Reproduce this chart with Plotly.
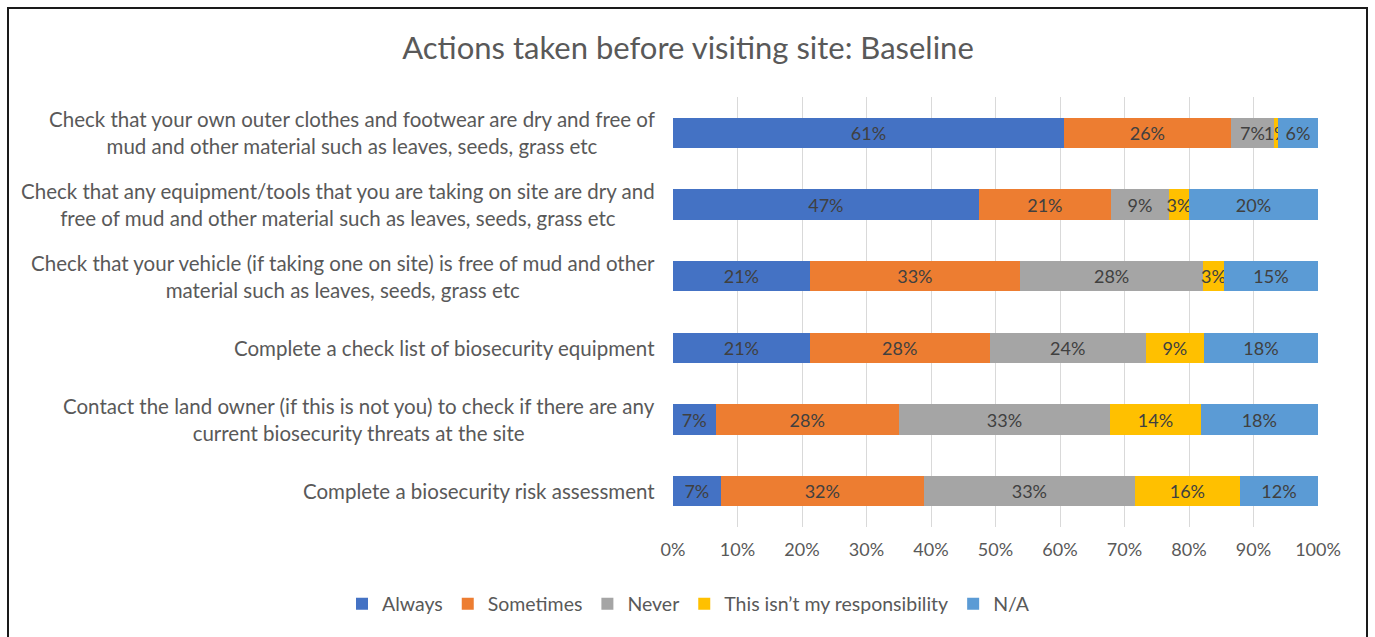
import plotly.graph_objects as go

# Survey statements (top to bottom) and share of responses, in percent
statements = [
    "Check that your own outer clothes and footwear are dry and free of<br>mud and other material such as leaves, seeds, grass etc",
    "Check that any equipment/tools that you are taking on site are dry and<br>free of mud and other material such as leaves, seeds, grass etc",
    "Check that your vehicle (if taking one on site) is free of mud and other<br>material such as leaves, seeds, grass etc",
    "Complete a check list of biosecurity equipment",
    "Contact the land owner (if this is not you) to check if there are any<br>current biosecurity threats at the site",
    "Complete a biosecurity risk assessment",
]
row_keys = ["s1", "s2", "s3", "s4", "s5", "s6"]

always = [60.6, 47.4, 21.2, 21.2, 6.6, 7.4]
sometimes = [25.9, 20.5, 32.6, 27.9, 28.4, 31.5]
never = [6.7, 9.0, 28.4, 24.2, 32.8, 32.7]
not_mine = [0.6, 3.1, 3.2, 9.0, 14.0, 16.3]
not_applicable = [6.2, 20.0, 14.6, 17.7, 18.2, 12.1]

series = [
    ("Always", always, "#4472C4"),
    ("Sometimes", sometimes, "#ED7D31"),
    ("Never", never, "#A5A5A5"),
    ("This isn\u2019t my responsibility", not_mine, "#FFC000"),
    ("N/A", not_applicable, "#5B9BD5"),
]

tick_vals = [0, 10, 20, 30, 40, 50, 60, 70, 80, 90, 100]
tick_text = ["0%", "10%", "20%", "30%", "40%", "50%", "60%", "70%", "80%", "90%", "100%"]

FONT = "Lato"
GREY = "#595959"
W, H = 1375, 637
L, R, T, B = 673, 57, 97, 110
PW, PH = W - L - R, H - T - B

fig = go.Figure()
for name, vals, color in series:
    fig.add_trace(go.Bar(
        y=row_keys, x=vals, name=name, orientation="h",
        marker=dict(color=color, line=dict(width=0)),
        texttemplate="%{x:.0f}%", textposition="inside", textangle=0,
        insidetextanchor="middle", constraintext="none",
        textfont=dict(family=FONT, size=18, color="#404040"),
        hoverinfo="skip",
    ))

annotations = []
for key, text in zip(row_keys, statements):
    annotations.append(dict(
        x=0, xref="paper", y=key, yref="y", text=text,
        xanchor="right", yanchor="middle", align="center", xshift=-16,
        showarrow=False, font=dict(family=FONT, size=20.5, color=GREY),
    ))

# chart frame
shapes = [dict(
    type="rect", xref="paper", yref="paper",
    x0=(8 - L) / PW, x1=(1367 - L) / PW,
    y0=(H - B - 645) / PH, y1=(H - B - 8) / PH,
    line=dict(color="#1a1a1a", width=2), fillcolor="rgba(0,0,0,0)", layer="below",
)]

fig.update_layout(
    width=W, height=H,
    margin=dict(l=L, r=R, t=T, b=B, autoexpand=False),
    barmode="stack", bargap=0.58,
    paper_bgcolor="white", plot_bgcolor="white",
    title=dict(text="Actions taken before visiting site: Baseline",
               x=688 / W, xanchor="center", y=1 - 48 / H, yanchor="middle",
               font=dict(family=FONT, size=31, color=GREY)),
    xaxis=dict(range=[0, 100], tickvals=tick_vals, ticktext=tick_text,
               showgrid=True, gridcolor="#D9D9D9", gridwidth=1, zeroline=False,
               showline=False, ticks="", ticklabelstandoff=10,
               tickfont=dict(family=FONT, size=18, color=GREY),
               fixedrange=True),
    yaxis=dict(categoryorder="array", categoryarray=row_keys, autorange="reversed",
               showticklabels=False, showgrid=False, zeroline=False, ticks="",
               fixedrange=True),
    legend=dict(orientation="h", x=(342 - L) / PW, xanchor="left",
                y=(H - B - 604) / PH, yanchor="middle",
                itemwidth=30, font=dict(family=FONT, size=19.5, color=GREY),
                traceorder="normal", itemclick=False),
    annotations=annotations,
    shapes=shapes,
    showlegend=True,
)

fig.write_html("out.html")
